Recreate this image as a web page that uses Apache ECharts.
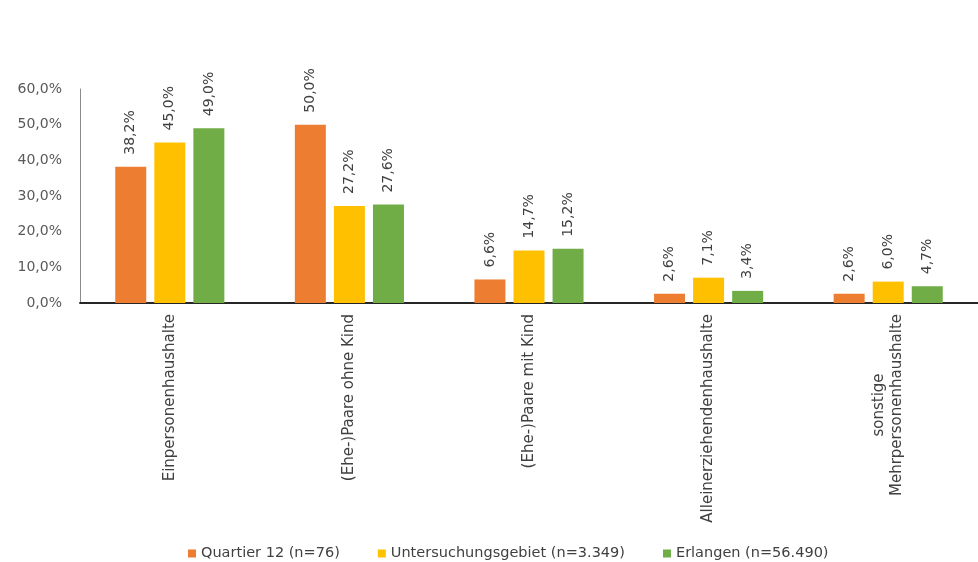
<!DOCTYPE html>
<html>
<head>
<meta charset="utf-8">
<title>Haushaltstypen</title>
<script src="https://cdn.jsdelivr.net/npm/echarts@6/dist/echarts.min.js"></script>
<style>
  html, body { margin: 0; padding: 0; background: #ffffff; }
  #chart { width: 978px; height: 562px; }
</style>
</head>
<body>
<div id="chart"></div>
<script>
// Haushaltstypen (Anteile in %)
const categories = [
  'Einpersonenhaushalte',
  '(Ehe-)Paare ohne Kind',
  '(Ehe-)Paare mit Kind',
  'Alleinerziehendenhaushalte',
  'sonstige\nMehrpersonenhaushalte'
];
const seriesNames = [
  'Quartier 12 (n=76)',
  'Untersuchungsgebiet (n=3.349)',
  'Erlangen (n=56.490)'
];
const quartier12 = [38.2, 50.0, 6.6, 2.6, 2.6];
const untersuchungsgebiet = [45.0, 27.2, 14.7, 7.1, 6.0];
const erlangen = [49.0, 27.6, 15.2, 3.4, 4.7];
const yTicks = { min: 0, max: 60, interval: 10 };

const colors = ['#ED7D31', '#FFC000', '#70AD47'];
const FONT = 'DejaVu Sans';
const TEXT = '#404040';

const pct = v => v.toFixed(1).replace('.', ',') + '%';

const barLabel = {
  show: true,
  position: 'top',
  rotate: 90,
  align: 'left',
  verticalAlign: 'middle',
  distance: 12,
  fontFamily: FONT,
  fontSize: 14,
  color: TEXT,
  formatter: p => pct(p.value)
};

function makeSeries(name, data) {
  return {
    name: name,
    type: 'bar',
    data: data,
    barWidth: 31,
    barGap: '26%',
    label: barLabel
  };
}

const chart = echarts.init(document.getElementById('chart'), null, { renderer: 'canvas' });
chart.setOption({
  backgroundColor: '#ffffff',
  color: colors,
  animation: false,
  grid: { left: 80, top: 89, width: 900, height: 214 },
  legend: {
    left: 183,
    top: 541,
    itemWidth: 8,
    itemHeight: 8,
    itemGap: 38,
    icon: 'rect',
    textStyle: { fontFamily: FONT, fontSize: 14.5, color: TEXT },
    data: seriesNames
  },
  xAxis: {
    type: 'category',
    data: categories,
    axisLine: { show: true, lineStyle: { color: '#262626', width: 2 } },
    axisTick: { show: false },
    axisLabel: {
      rotate: 90,
      interval: 0,
      margin: 11,
      fontFamily: FONT,
      fontSize: 15,
      color: TEXT,
      lineHeight: 18,
      formatter: v => v.indexOf('\n') >= 0
        ? v.split('\n').map(l => '{c|' + l + '}').join('\n')
        : v,
      rich: {
        c: { width: 182, align: 'center', fontFamily: FONT, fontSize: 15, color: TEXT, lineHeight: 18 }
      }
    }
  },
  yAxis: {
    type: 'value',
    min: yTicks.min,
    max: yTicks.max,
    interval: yTicks.interval,
    splitLine: { show: false },
    axisTick: { show: false },
    axisLine: { show: true, lineStyle: { color: '#8c8c8c', width: 1 } },
    axisLabel: {
      margin: 18,
      fontFamily: FONT,
      fontSize: 14,
      color: '#595959',
      formatter: v => pct(v)
    }
  },
  series: [
    makeSeries(seriesNames[0], quartier12),
    makeSeries(seriesNames[1], untersuchungsgebiet),
    makeSeries(seriesNames[2], erlangen)
  ]
});
</script>
</body>
</html>
